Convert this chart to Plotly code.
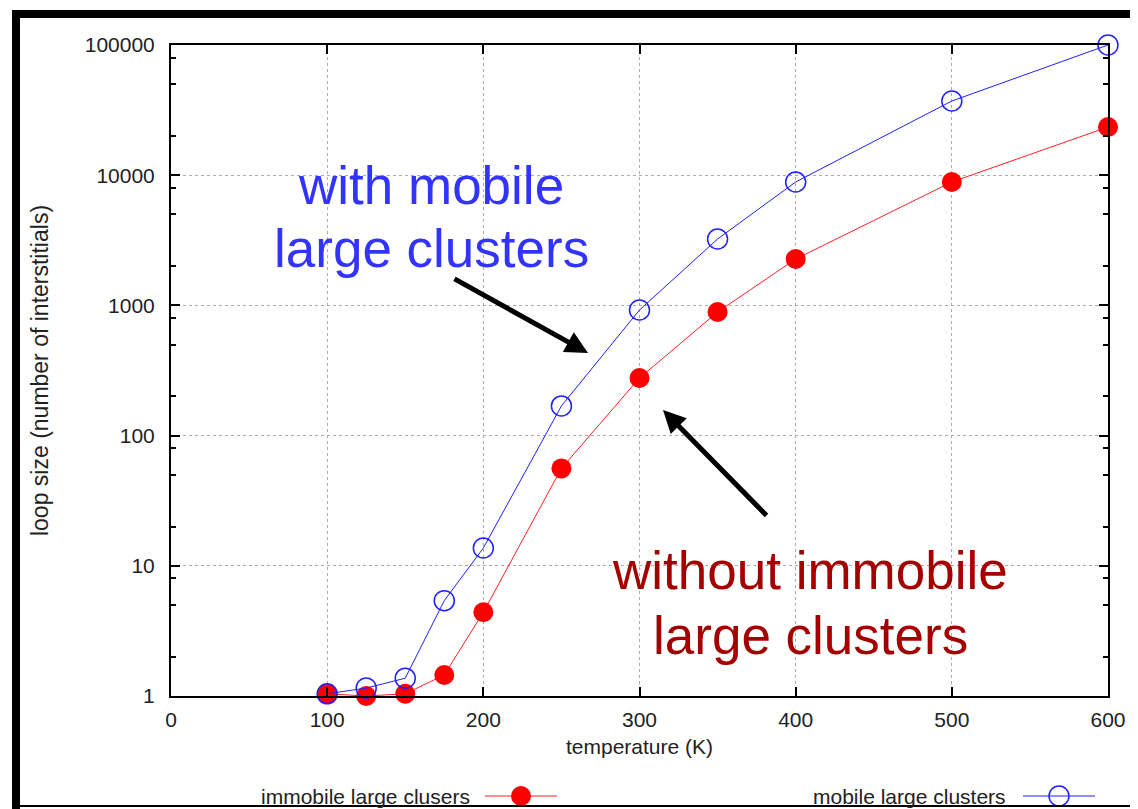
import plotly.graph_objects as go

# ---- data ----
temperature = [100, 125, 150, 175, 200, 250, 300, 350, 400, 500, 600]
immobile = [1.04, 1.0, 1.04, 1.45, 4.4, 56, 277, 890, 2270, 8870, 23450]
mobile = [1.04, 1.15, 1.37, 5.4, 13.7, 169, 922, 3236, 8870, 37150, 100000]

x_ticks = [0, 100, 200, 300, 400, 500, 600]
y_ticks = [1, 10, 100, 1000, 10000, 100000]
y_ticktext = ["1", "10", "100", "1000", "10000", "100000"]
y_minor = [m * d for d in [1, 10, 100, 1000, 10000] for m in (2, 5, 8)]

# page offset (default body margin of the html page)
OFF = 8
SW, SH = 1138, 809                # screenshot size
W, H = SW - OFF, SH - OFF          # figure size
# plot area in screenshot pixels
PX0, PX1, PY0, PY1 = 171, 1108, 45, 696
L, T = PX0 - OFF, PY0 - OFF
R, B = W - (PX1 - OFF), H - (PY1 - OFF)
PW, PH = PX1 - PX0, PY1 - PY0


def px(x):
    return (x - PX0) / PW


def py(y):
    return (PY1 - y) / PH


FONT = "Liberation Sans, Arial, Helvetica, sans-serif"
BLUE_TXT = "#3333ff"
RED_TXT = "#a40000"

fig = go.Figure()
fig.add_trace(go.Scatter(
    x=temperature, y=immobile, mode="lines+markers", name="immobile large clusers",
    line=dict(color="#ff2020", width=1),
    marker=dict(symbol="circle", size=20, color="#ff0000"),
    cliponaxis=False, showlegend=False))
fig.add_trace(go.Scatter(
    x=temperature, y=mobile, mode="lines+markers", name="mobile large clusters",
    line=dict(color="#2020ff", width=1),
    marker=dict(symbol="circle-open", size=20, color="#2020ff", line=dict(width=1.5)),
    cliponaxis=False, showlegend=False))

axis_common = dict(
    showline=True, linecolor="black", linewidth=2, mirror="ticks",
    ticks="inside", tickcolor="black", tickwidth=1.5,
    showgrid=True, gridcolor="#aaaaaa", griddash="dot", gridwidth=1,
    zeroline=False,
    tickfont=dict(family=FONT, size=21, color="#222222"),
)

fig.update_xaxes(
    range=[0, 600], tickmode="array", tickvals=x_ticks, ticklen=9,
    ticklabelstandoff=4,
    title=dict(text="temperature (K)", font=dict(family=FONT, size=21, color="#222222"), standoff=9),
    **axis_common)
fig.update_yaxes(
    type="log", range=[0, 5], tickmode="array", tickvals=y_ticks, ticktext=y_ticktext,
    ticklen=9, ticklabelstandoff=10,
    minor=dict(tickmode="array", tickvals=y_minor, ticklen=5, tickcolor="black", showgrid=False, ticks="inside"),
    title=dict(text="loop size (number of interstitials)", font=dict(family=FONT, size=23, color="#222222"), standoff=30),
    **axis_common)

annotations = []
# big labels
for txt, cx, cy, col in [
    ("with mobile", 431, 185, BLUE_TXT),
    ("large clusters", 431, 249, BLUE_TXT),
    ("without immobile", 810, 570, RED_TXT),
    ("large clusters", 810, 635, RED_TXT),
]:
    annotations.append(dict(text=txt, x=px(cx), y=py(cy), xref="paper", yref="paper",
                            xanchor="center", yanchor="middle", showarrow=False,
                            borderpad=0, font=dict(family=FONT, size=53, color=col)))
# arrows (head position, tail offset in pixels)
for hx, hy, tx, ty in [(588, 353, 453, 278), (663, 410, 768, 517)]:
    annotations.append(dict(text="", x=px(hx), y=py(hy), xref="paper", yref="paper",
                            ax=tx - hx, ay=ty - hy, axref="pixel", ayref="pixel",
                            showarrow=True, arrowhead=2, arrowsize=0.9, arrowwidth=5,
                            arrowcolor="black", standoff=0))
# legend texts
for txt, rx in [("immobile large clusers", 472), ("mobile large clusters", 1008)]:
    annotations.append(dict(text=txt, x=px(rx), y=py(796), xref="paper", yref="paper",
                            xanchor="right", yanchor="middle", showarrow=False,
                            font=dict(family=FONT, size=21, color="#222222")))

shapes = []
# legend samples
shapes.append(dict(type="line", xref="paper", yref="paper", x0=px(485), x1=px(557),
                   y0=py(796), y1=py(796), line=dict(color="#ff2020", width=1)))
shapes.append(dict(type="circle", xref="paper", yref="paper", xsizemode="pixel", ysizemode="pixel",
                   xanchor=px(521), yanchor=py(796), x0=-10, x1=10, y0=-10, y1=10,
                   fillcolor="#ff0000", line=dict(color="#ff0000", width=0)))
shapes.append(dict(type="line", xref="paper", yref="paper", x0=px(1023), x1=px(1095),
                   y0=py(796), y1=py(796), line=dict(color="#2020ff", width=1)))
shapes.append(dict(type="circle", xref="paper", yref="paper", xsizemode="pixel", ysizemode="pixel",
                   xanchor=px(1059), yanchor=py(796), x0=-10, x1=10, y0=-10, y1=10,
                   fillcolor="rgba(0,0,0,0)", line=dict(color="#2020ff", width=1.5)))
# outer black frame (top thick, left thick, bottom thin)
shapes.append(dict(type="rect", xref="paper", yref="paper", x0=px(12), x1=px(SW + 20),
                   y0=py(18), y1=py(10), fillcolor="black", line=dict(width=0), layer="above"))
shapes.append(dict(type="rect", xref="paper", yref="paper", x0=px(12), x1=px(20),
                   y0=py(SH + 20), y1=py(10), fillcolor="black", line=dict(width=0), layer="above"))
shapes.append(dict(type="line", xref="paper", yref="paper", x0=px(12), x1=px(SW + 20),
                   y0=py(806), y1=py(806), line=dict(color="black", width=2), layer="above"))

fig.update_layout(
    width=W, height=H,
    margin=dict(l=L, r=R, t=T, b=B, autoexpand=False),
    paper_bgcolor="white", plot_bgcolor="white",
    showlegend=False,
    annotations=annotations, shapes=shapes,
    font=dict(family=FONT, size=21, color="#222222"),
)

fig.write_html("out.html")
